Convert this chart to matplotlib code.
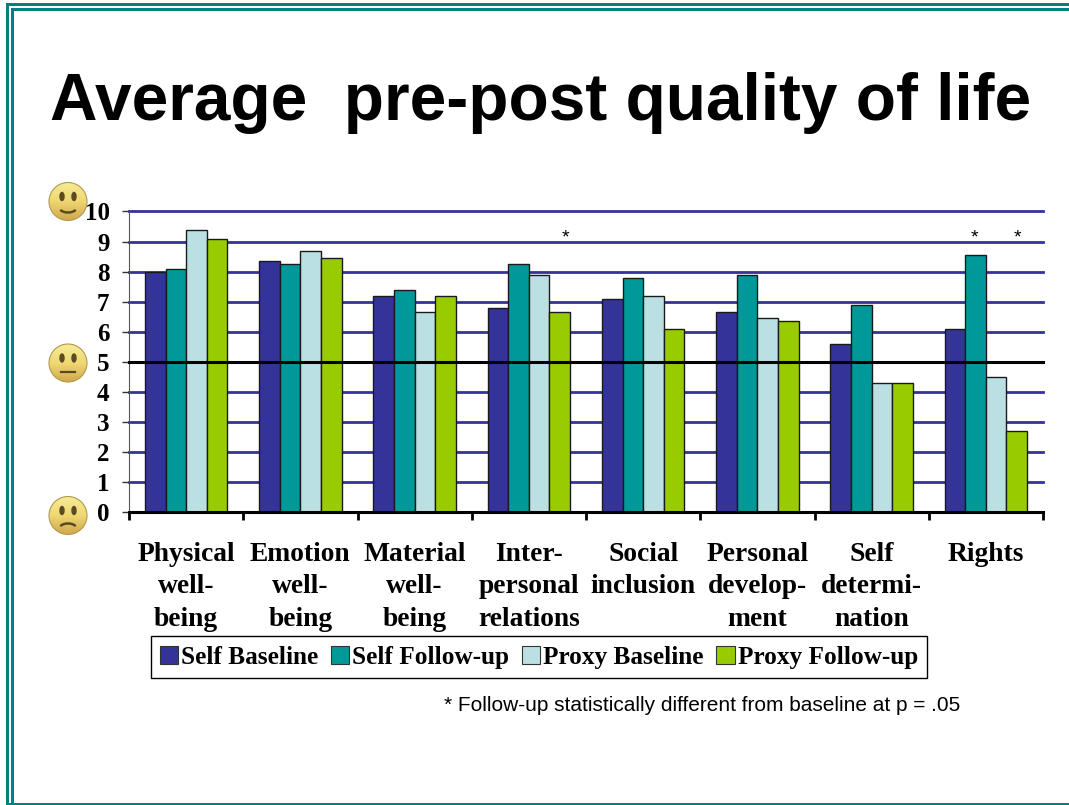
import numpy as np
import matplotlib
matplotlib.use("Agg")
import matplotlib.pyplot as plt
from matplotlib.colors import LinearSegmentedColormap
from matplotlib.patches import Arc, Circle, Ellipse, Patch

W, H = 1069, 805

categories = [
    "Physical\nwell-\nbeing", "Emotion\nwell-\nbeing", "Material\nwell-\nbeing",
    "Inter-\npersonal\nrelations", "Social\ninclusion", "Personal\ndevelop-\nment",
    "Self\ndetermi-\nnation", "Rights",
]
self_baseline = [8.0, 8.35, 7.2, 6.8, 7.1, 6.65, 5.6, 6.1]
self_followup = [8.1, 8.25, 7.4, 8.25, 7.8, 7.9, 6.9, 8.55]
proxy_baseline = [9.4, 8.7, 6.65, 7.9, 7.2, 6.45, 4.3, 4.5]
proxy_followup = [9.1, 8.45, 7.2, 6.65, 6.1, 6.35, 4.3, 2.7]
series_names = ["Self Baseline", "Self Follow-up", "Proxy Baseline", "Proxy Follow-up"]
series_colors = ["#333399", "#009999", "#BBE0E3", "#99CC00"]
star_x = [3.32, 6.90, 7.28]
y_ticks = list(range(0, 11))

serif = "Liberation Serif"
sans = "Liberation Sans"


def px_axes(fig, left, top, right, bottom):
    return fig.add_axes([left / W, 1 - bottom / H, (right - left) / W, (bottom - top) / H])


fig = plt.figure(figsize=(W / 100, H / 100), dpi=100)

# ---------------------------------------------------------------------------
# Bars
# ---------------------------------------------------------------------------

ax = px_axes(fig, 129, 211.5, 1043, 512)
bar_w = 0.18
for i, vals in enumerate([self_baseline, self_followup, proxy_baseline, proxy_followup]):
    pos = [c + (i - 1.5) * bar_w for c in range(8)]
    ax.bar(pos, vals, width=bar_w, color=series_colors[i], edgecolor="#1a1a1a",
           linewidth=1, zorder=3)

ax.set_xlim(-0.5, 7.5)
ax.set_ylim(0, 10)
ax.set_yticks(y_ticks)
ax.set_yticklabels([str(t) for t in y_ticks], family=serif, fontweight="bold", fontsize=18)
ax.set_xticks(range(8))
ax.set_xticklabels(categories, family=serif, fontweight="bold", fontsize=19.8, linespacing=1.4)
ax.set_xticks(np.arange(-0.5, 8, 1), minor=True)
ax.tick_params(axis="x", which="major", length=0, pad=21.5)
ax.tick_params(axis="x", which="minor", length=6, width=2, color="black")
ax.tick_params(axis="y", length=5, width=1, color="#333333", pad=9)

ax.grid(axis="y", color="#333399", linewidth=2, zorder=1)
for line in ax.get_ygridlines():
    line.set_clip_on(False)
ax.axhline(5, color="black", linewidth=2.2, zorder=4, clip_on=False)
for side in ["top", "right"]:
    ax.spines[side].set_visible(False)
ax.spines["left"].set_color("#555555")
ax.spines["left"].set_linewidth(0.8)
ax.spines["bottom"].set_linewidth(2.2)
ax.spines["bottom"].set_zorder(5)

for x in star_x:
    ax.text(x, 8.85, "*", family=sans, fontsize=14, ha="center", va="bottom", zorder=5)

handles = [Patch(facecolor=c, edgecolor="#333333", linewidth=0.8) for c in series_colors]
fig.legend(handles, series_names, ncol=4, loc="center", bbox_to_anchor=(539 / W, 1 - 657 / H),
           prop={"family": serif, "weight": "bold", "size": 18.2}, frameon=True, fancybox=False,
           edgecolor="black", framealpha=1, handlelength=0.72, handleheight=0.72,
           handletextpad=0.12, columnspacing=0.5, borderpad=0.36, borderaxespad=0)

# ---------------------------------------------------------------------------
# Slide furniture: title, border, smileys, footnote
# ---------------------------------------------------------------------------

fig.text(50 / W, 1 - 103 / H, "Average  pre-post quality of life", family=sans, fontweight="bold",
         fontsize=47.3, ha="left", va="center")
fig.text(444 / W, 1 - 705 / H, "* Follow-up statistically different from baseline at p = .05",
         family=sans, fontsize=15, ha="left", va="center")

over = fig.add_axes([0, 0, 1, 1], zorder=-1)
over.set_xlim(0, W)
over.set_ylim(H, 0)
over.axis("off")
over.patch.set_alpha(0)
ax.patch.set_alpha(0)

teal = "#008080"
for x0, x1 in [(6, 9), (11, 14)]:
    over.fill_between([x0, x1], [3 if x0 == 6 else 8] * 2, [H, H], color=teal, linewidth=0)
for y0, y1 in [(3, 6), (8, 11)]:
    over.fill_between([6 if y0 == 3 else 11, W], [y0, y0], [y1, y1], color=teal, linewidth=0)
over.fill_between([6, W], [803, 803], [805, 805], color=teal, linewidth=0)

face_cmap = LinearSegmentedColormap.from_list("face", ["#F6EC96", "#EFD873", "#D2A94E"])
gradient = np.linspace(0, 1, 64).reshape(-1, 1)


def smiley(cx, cy, mood):
    r = 19
    img = over.imshow(gradient, cmap=face_cmap, extent=[cx - r, cx + r, cy + r, cy - r],
                      aspect="auto", zorder=1)
    img.set_clip_path(Circle((cx, cy), r, transform=over.transData))
    over.add_patch(Circle((cx, cy), r, fill=False, edgecolor="#B09A50", linewidth=0.8, zorder=2))
    for dx in (-6, 6):
        over.add_patch(Ellipse((cx + dx, cy - 5), 4, 8, color="#5A4A20", zorder=3))
    if mood == "happy":
        over.add_patch(Arc((cx, cy + 4), 20, 14, theta1=30, theta2=150, color="#5A4A20", linewidth=1.8,
                           zorder=3))
    elif mood == "neutral":
        over.plot([cx - 7, cx + 7], [cy + 9, cy + 9], color="#5A4A20", linewidth=1.6, zorder=3)
    else:
        over.add_patch(Arc((cx, cy + 15), 20, 14, theta1=210, theta2=330, color="#5A4A20", linewidth=1.8,
                           zorder=3))


smiley(68, 201.5, "happy")
smiley(68, 363, "neutral")
smiley(68, 515.5, "sad")
over.set_xlim(0, W)
over.set_ylim(H, 0)

fig.savefig("out.png", dpi=100)
